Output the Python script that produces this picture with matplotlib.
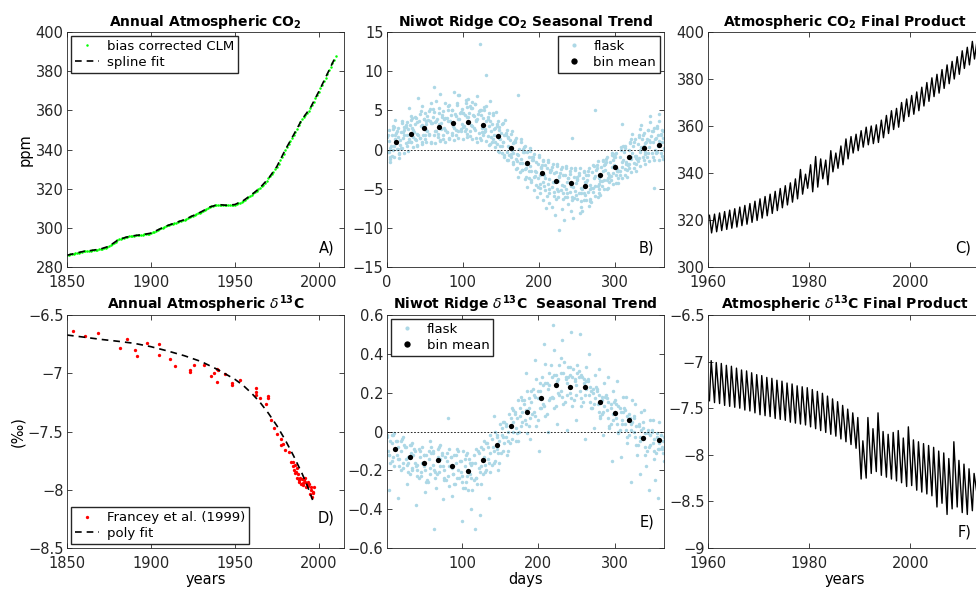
import numpy as np
import matplotlib.pyplot as plt
from matplotlib.ticker import FuncFormatter

plt.rcParams['font.family'] = ['DejaVu Sans']
plt.rcParams['mathtext.fontset'] = 'dejavusans'

# ---------------- data ----------------
# A) annual CO2 (bias corrected CLM), one value per year 1850-2010
clm_years = np.arange(1850, 2011)
clm_ppm = [
    286.0, 286.2, 286.4, 286.6, 286.8, 287.0, 287.2, 287.4, 287.6, 287.8,
    288.0, 288.1, 288.2, 288.3, 288.4, 288.5, 288.6, 288.7, 288.8, 289.0,
    289.2, 289.4, 289.6, 289.9, 290.2, 290.6, 291.1, 291.7, 292.4, 293.0,
    293.6, 294.1, 294.5, 294.8, 295.0, 295.2, 295.4, 295.6, 295.8, 295.9,
    296.0, 296.1, 296.2, 296.3, 296.4, 296.5, 296.6, 296.7, 296.9, 297.1,
    297.3, 297.7, 298.1, 298.5, 298.9, 299.3, 299.7, 300.0, 300.4, 300.8,
    301.2, 301.5, 301.8, 302.1, 302.4, 302.7, 303.0, 303.3, 303.6, 303.9,
    304.2, 304.6, 305.0, 305.4, 305.8, 306.2, 306.6, 307.0, 307.4, 307.8,
    308.2, 308.7, 309.2, 309.7, 310.2, 310.6, 311.0, 311.3, 311.6, 311.8,
    311.9, 311.9, 311.8, 311.7, 311.6, 311.5, 311.5, 311.5, 311.6, 311.7,
    311.9, 312.2, 312.5, 312.9, 313.4, 313.9, 314.4, 315.0, 315.6, 316.2,
    316.9, 317.6, 318.3, 319.0, 319.7, 320.5, 321.3, 322.1, 323.0, 324.0,
    325.2, 326.3, 327.4, 328.6, 329.9, 331.3, 332.8, 334.4, 336.1, 337.9,
    339.8, 341.5, 343.0, 344.5, 346.0, 347.5, 349.1, 350.7, 352.3, 353.9,
    355.4, 356.7, 357.7, 358.6, 359.8, 361.3, 362.9, 364.5, 366.2, 367.9,
    369.6, 371.3, 373.1, 374.9, 376.7, 378.5, 380.4, 382.2, 384.0, 385.8,
    387.5]
spline_years = np.arange(1850, 2011, 5)
spline_ppm = [286.0, 287.0, 288.0, 288.5, 289.2, 290.6, 293.6, 295.2, 296.0, 296.5,
              297.3, 299.3, 301.2, 302.7, 304.2, 306.2, 308.2, 310.6, 311.9, 311.5,
              311.9, 313.9, 316.9, 320.5, 325.2, 331.3, 339.8, 347.5, 355.4, 361.3,
              369.6, 378.5, 387.5]

# B) Niwot Ridge CO2 flask anomalies, sampled passes through the year (6-day steps)
co2_pass_start = [1, 2, 3, 4, 5, 3.5, 0.5, 1.5, 2.2, 3.8, 4.6]
co2_flask = [
    [1.9, -0.8, 2.4, 0.2, 3.1, 1.0, 4.2, 1.5, 3.9, 2.0, 5.2, 1.6, 4.4, 2.2, 5.0, 1.9, 4.8, 2.4, 5.6, 2.7,
     4.9, 1.8, 4.1, 0.9, 3.2, -0.4, 2.1, -1.0, 1.2, -2.9, 0.3, -3.6, -0.9, -4.8, -1.5, -5.9, -2.2, -6.3, -2.5, -6.0,
     -2.8, -6.2, -3.0, -6.5, -2.7, -5.4, -2.0, -4.6, -1.2, -3.9, -0.6, -3.3, 0.2, -2.4, 1.0, -1.5, 1.8, -0.9, 2.3, -0.5,
     2.0],
    [-0.3, 2.6, 0.1, 3.4, 0.5, 3.8, 1.2, 4.5, 1.4, 4.9, 8.0, 4.6, 1.3, 5.1, 1.8, 6.0, 2.6, 6.3, 1.7, 5.8,
     1.5, 5.0, 0.6, 4.4, -0.2, 3.3, -1.3, 2.0, -2.5, 0.9, -3.8, -0.2, -5.2, -1.0, -6.4, -1.6, -7.3, -1.9, -7.6, -2.1,
     -7.9, -2.4, -8.1, -2.9, -7.2, -2.0, -6.1, -1.5, -5.0, -0.7, -4.3, -0.1, -3.2, 0.8, -2.3, 1.6, -1.4, 2.5, -1.0, 3.0,
     -0.8],
    [1.1, 0.4, 1.6, 2.2, 1.9, 2.7, 2.0, 3.0, 2.5, 3.6, 2.4, 3.3, 2.8, 3.7, 3.0, 3.9, 3.3, 4.1, 3.1, 3.8,
     13.5, 2.6, 3.0, 1.9, 1.5, 0.9, 0.5, -0.1, -0.6, -1.2, -1.8, -2.1, -2.7, -3.2, -3.3, -3.8, -4.2, -4.0, -4.5, -4.1,
     -4.7, -4.3, -4.9, -4.2, -4.5, -3.6, -3.7, -2.8, -3.0, -2.2, -2.5, -1.6, -1.6, -0.9, -0.8, 0.0, 0.4, 0.3, 0.9, 0.5,
     1.0],
    [-1.6, 1.9, -0.5, 2.9, 0.9, 1.6, 3.5, 1.0, 3.2, 0.8, 3.7, 1.2, 4.0, 1.5, 7.4, 2.3, 4.6, 2.0, 5.3, 0.9,
     4.4, 9.5, 3.6, 1.0, 2.5, -0.9, 1.5, -1.9, 7.0, -2.6, -0.3, -4.1, -1.6, -5.6, -2.0, -6.8, -3.0, -10.3, -3.3, -7.0,
     1.5, -3.5, -7.4, -3.3, -6.6, 5.0, -5.0, -2.0, -4.2, -1.4, -3.6, 3.3, -2.6, 1.4, -1.8, 2.6, -0.6, 3.5, -4.9, 4.5,
     1.5],
    [0.5, 3.8, 1.2, 2.5, 5.3, 2.2, 6.6, 1.9, 4.3, 3.4, 6.2, 2.6, 5.9, 3.6, 4.5, 7.0, 3.0, 6.5, 4.4, 6.8,
     2.2, 5.5, 1.6, 4.8, 0.4, 3.8, -0.7, 0.9, -3.5, 0.1, -4.8, -1.0, -6.0, -2.2, -7.5, -2.6, -8.4, -3.4, -9.0, -3.6,
     -8.8, -3.8, -7.8, -3.9, -6.7, -2.6, -5.8, -1.8, -3.5, -0.9, -2.8, 0.4, -2.0, 2.0, -1.2, 3.1, 0.9, 4.3, 1.3, 3.6,
     0.0],
    [-0.9, 2.9, -1.1, 1.5, 2.6, 4.0, 0.6, 5.6, 3.7, 6.0, 3.5, 7.1, 3.9, 5.7, 3.2, 6.9, 4.6, 5.4, 6.1, 3.6,
     5.0, 2.3, 6.2, 2.6, 2.9, 1.0, 1.6, -0.4, -1.5, -1.7, -2.3, -2.8, -3.4, -4.4, -4.6, -5.0, -5.4, -5.3, -5.6, -5.5,
     -6.0, -5.8, -5.6, -5.8, -5.1, -4.7, -4.4, -3.9, -3.7, -3.0, -2.7, -2.2, -1.9, -1.2, -0.8, -0.3, 0.8, 1.2, 2.7, 1.9,
     2.4],
    [1.6, 1.8, 2.1, 2.2, 2.9, 3.1, 3.3, 3.7, 3.9, 3.8, 4.1, 3.9, 4.2, 4.0, 4.4, 4.3, 4.6, 4.4, 4.7, 4.3,
     4.5, 4.0, 3.9, 3.2, 3.0, 2.1, 1.9, 1.2, 0.9, 0.1, -0.3, -0.9, -1.3, -1.8, -2.0, -2.3, -2.6, -2.9, -3.0, -3.2,
     -3.1, -3.5, -3.3, -3.6, -3.2, -2.9, -2.3, -2.2, -1.6, -1.6, -1.0, -0.9, -0.3, 0.0, 0.5, 0.7, 1.3, 1.3, 1.7, 1.5,
     1.8],
    [-0.3, 0.0, 0.1, 0.2, 0.8, 0.9, 1.4, 1.5, 1.8, 1.9, 1.8, 2.0, 1.9, 2.2, 2.1, 2.5, 2.3, 2.6, 2.4, 2.5,
     2.1, 2.2, 1.7, 1.4, 0.7, 0.5, -0.3, -0.6, -1.2, -1.7, -2.5, -2.8, -3.5, -3.7, -4.2, -4.4, -4.8, -5.0, -5.2, -5.1,
     -5.4, -5.3, -5.6, -5.5, -5.4, -4.9, -4.6, -4.0, -3.9, -3.4, -3.3, -2.7, -2.5, -1.9, -1.7, -1.1, -0.9, -0.5, -0.5, -0.3,
     -0.4],
    [2.5, 3.0, 2.8, 3.6, 3.5, 4.3, 4.0, 4.9, 4.6, 5.2, 4.8, 5.3, 4.9, 5.5, 5.0, 5.7, 5.2, 5.9, 5.3, 5.8,
     5.1, 5.4, 4.6, 4.6, 3.7, 3.4, 2.5, 2.4, 1.5, 1.3, 0.5, 0.2, -0.6, -0.7, -1.3, -1.3, -1.9, -2.1, -2.2, -2.4,
     -2.3, -2.6, -2.4, -2.8, -2.3, -2.1, -1.5, -1.3, -0.9, -0.5, -0.4, 0.3, 0.5, 1.0, 1.4, 1.9, 2.1, 2.5, 2.4, 2.8,
     2.5],
    [-1.2, -1.0, -0.6, -0.4, -0.2, 0.3, 0.5, 0.7, 0.9, 1.0, 0.8, 1.1, 1.0, 1.3, 1.2, 1.5, 1.3, 1.6, 1.4, 1.5,
     1.2, 1.1, 0.7, 0.3, -0.3, -0.7, -1.3, -1.6, -2.3, -2.6, -3.5, -3.9, -4.5, -4.9, -5.2, -5.6, -5.9, -6.1, -6.3, -6.1,
     -6.4, -6.3, -6.6, -6.5, -6.3, -5.9, -5.6, -5.0, -4.9, -4.4, -4.3, -3.6, -3.5, -2.9, -2.7, -2.1, -1.8, -1.5, -1.4, -1.3,
     -1.2],
    [0.2, 1.4, 0.6, 1.9, 1.3, 2.5, 1.8, 3.1, 2.3, 3.4, 2.4, 3.4, 2.5, 3.7, 2.8, 3.9, 2.9, 4.1, 3.0, 3.9,
     2.8, 3.6, 2.3, 2.8, 1.3, 1.8, 0.3, 0.8, -0.7, -0.3, -1.9, -1.4, -2.9, -2.3, -3.6, -2.9, -4.2, -3.5, -4.6, -3.7,
     -4.8, -3.9, -5.0, -4.1, -4.9, -3.4, -4.0, -2.6, -3.3, -2.0, -2.7, -1.3, -1.9, -0.5, -1.1, 0.3, -0.3, 0.9, 0.0, 1.1,
     0.2],
]
bin_day = [12, 31, 49, 68, 87, 107, 127, 146, 164, 185, 204, 223, 242, 261, 281, 300, 319, 338, 358]
co2_bin_mean = [0.96, 2.03, 2.76, 2.89, 3.32, 3.53, 3.10, 1.69, 0.15, -1.73, -3.02, -4.0, -4.30, -4.60,
                -3.27, -2.25, -0.96, 0.24, 0.62]

# C) Atmospheric CO2 final product: yearly seasonal maximum / minimum, 1960-2013
prod_years = np.arange(1960, 2014)
co2_peak = [322.0, 322.5, 323.0, 323.6, 324.2, 324.8, 325.5, 326.2, 327.0, 328.0,
            329.0, 330.0, 331.0, 332.2, 333.4, 334.6, 335.8, 337.5, 341.5, 339.5,
            343.5, 347.0, 346.0, 345.5, 349.5, 348.5, 351.5, 354.5, 355.5, 356.5,
            358.0, 359.5, 360.0, 360.5, 362.5, 364.5, 366.5, 367.5, 370.0, 371.5,
            373.0, 374.5, 376.5, 378.5, 380.5, 382.0, 384.0, 386.0, 387.5, 389.5,
            392.0, 393.5, 396.0, 397.5]
co2_trough = [314.5, 315.0, 315.5, 316.0, 316.5, 317.0, 317.6, 318.2, 319.0, 319.8,
              320.8, 321.8, 322.8, 324.0, 325.2, 326.4, 327.6, 329.0, 331.0, 333.5,
              332.0, 334.0, 337.5, 335.0, 340.5, 342.0, 343.5, 346.0, 348.5, 349.5,
              351.0, 352.0, 352.5, 353.0, 355.0, 356.8, 358.5, 359.5, 362.0, 364.0,
              365.0, 366.5, 368.5, 370.5, 372.5, 374.0, 376.0, 378.0, 380.0, 382.0,
              384.5, 386.0, 388.5, 391.0]

# D) Francey et al. (1999) d13C and polynomial fit
francey_year = [1853.8, 1860.8, 1868.7, 1881.7, 1885.7, 1890.6, 1891.6, 1897.6, 1904.6, 1905.0,
                1911.6, 1914.6, 1923.5, 1923.5, 1925.9, 1931.9, 1935.5, 1937.5, 1939.1, 1939.1,
                1940.1, 1944.0, 1948.0, 1948.0, 1953.0, 1962.4, 1962.4, 1962.4, 1964.9, 1968.3,
                1970.0, 1970.0, 1971.3, 1973.3, 1975.3, 1977.3, 1977.3, 1978.9, 1979.9, 1982.3,
                1983.3, 1984.9, 1985.3, 1986.3, 1987.3, 1987.7, 1988.3, 1990.3, 1991.3, 1992.3,
                1993.3, 1994.3, 1995.2, 1996.3, 1996.9, 1984.5, 1985.8, 1986.0, 1987.0, 1988.0,
                1988.8, 1989.4, 1989.8, 1990.8, 1991.8, 1992.0, 1992.8, 1993.8, 1994.8, 1995.6,
                1996.0, 1996.6]
francey_d13c = [-6.637, -6.68, -6.652, -6.78, -6.709, -6.80, -6.852, -6.738, -6.749, -6.843,
                -6.88, -6.938, -6.972, -6.986, -6.929, -6.929, -7.023, -6.995, -7.072, -6.966,
                -6.974, -7.01, -7.086, -7.10, -7.06, -7.124, -7.157, -7.186, -7.215, -7.264,
                -7.195, -7.21, -7.40, -7.473, -7.52, -7.567, -7.616, -7.607, -7.659, -7.673,
                -7.765, -7.765, -7.83, -7.845, -7.816, -7.865, -7.931, -7.94, -7.917, -7.974,
                -7.931, -7.951, -8.002, -8.025, -7.974, -7.80, -7.79, -7.86, -7.90, -7.92,
                -7.90, -7.95, -7.91, -7.96, -7.93, -7.90, -7.95, -7.97, -8.04, -7.98,
                -8.06, -8.02]
poly_year = [1850, 1860, 1870, 1880, 1890, 1900, 1910, 1920, 1930, 1940, 1950, 1955, 1960,
             1965, 1970, 1975, 1980, 1985, 1990, 1993, 1996.3]
poly_d13c = [-6.672, -6.690, -6.709, -6.725, -6.743, -6.772, -6.809, -6.85, -6.90, -6.97, -7.052,
             -7.105, -7.172, -7.25, -7.344, -7.45, -7.573, -7.71, -7.86, -7.96, -8.088]

# E) Niwot Ridge d13C flask anomalies, sampled passes (6-day steps)
d13c_pass_start = [1, 2, 3, 4, 5, 1.6, 3.4, 4.5]
d13c_flask = [
    [-0.02, -0.15, -0.05, -0.20, -0.08, -0.22, -0.09, -0.24, -0.12, -0.26, -0.10, -0.22, -0.11, -0.25, -0.13,
     -0.27, -0.15, -0.29, -0.14, -0.25, -0.10, -0.22, -0.06, -0.17, -0.02, -0.11, 0.04, -0.06, 0.10, 0.00,
     0.16, 0.03, 0.22, 0.06, 0.28, 0.09, 0.34, 0.13, 0.38, 0.15, 0.33, 0.16, 0.31, 0.15, 0.27,
     0.12, 0.22, 0.09, 0.19, 0.04, 0.16, 0.01, 0.12, -0.02, 0.08, -0.07, 0.05, -0.10, 0.01, -0.11, -0.02],
    [-0.10, -0.06, -0.12, -0.10, -0.14, -0.11, -0.16, -0.13, -0.18, -0.14, -0.17, -0.13, -0.18, -0.15, -0.19,
     -0.16, -0.21, -0.18, -0.22, -0.16, -0.19, -0.13, -0.14, -0.08, -0.09, -0.02, -0.03, 0.03, 0.02, 0.08,
     0.06, 0.12, 0.10, 0.17, 0.14, 0.22, 0.18, 0.26, 0.21, 0.27, 0.20, 0.26, 0.21, 0.25, 0.19,
     0.20, 0.14, 0.16, 0.11, 0.12, 0.07, 0.10, 0.04, 0.07, 0.00, 0.03, -0.04, -0.01, -0.06, -0.03, -0.08],
    [-0.30, -0.02, -0.34, -0.04, -0.27, -0.07, -0.38, -0.10, -0.31, -0.05, -0.50, -0.08, -0.35, 0.07, -0.33,
     -0.09, -0.46, -0.12, -0.40, -0.50, -0.43, -0.05, -0.34, 0.08, -0.20, 0.05, -0.12, 0.12, -0.05, 0.18,
     0.30, -0.04, 0.37, -0.10, 0.45, 0.00, 0.55, 0.04, 0.47, 0.01, 0.51, 0.06, 0.50, -0.04, 0.40,
     0.02, 0.32, -0.02, 0.28, -0.15, 0.26, -0.13, 0.18, -0.26, 0.14, -0.22, 0.11, -0.30, 0.06, -0.34, -0.09],
    [-0.12, -0.18, -0.08, -0.19, -0.13, -0.20, -0.17, -0.23, -0.12, -0.19, -0.21, -0.14, -0.24, -0.18, -0.22,
     -0.20, -0.26, -0.23, -0.17, -0.24, -0.18, -0.17, -0.11, -0.10, -0.05, -0.03, 0.00, 0.05, 0.07, 0.10,
     0.11, 0.15, 0.18, 0.21, 0.25, 0.24, 0.29, 0.27, 0.30, 0.25, 0.28, 0.24, 0.29, 0.22, 0.23,
     0.17, 0.19, 0.13, 0.15, 0.09, 0.13, 0.06, 0.08, 0.04, 0.03, -0.03, -0.01, -0.07, -0.04, -0.09, -0.05],
    [-0.05, -0.09, -0.14, -0.07, -0.16, -0.12, -0.20, -0.16, -0.25, -0.11, -0.29, -0.18, -0.13, -0.28, -0.12,
     -0.24, -0.10, -0.30, -0.16, -0.27, -0.08, -0.20, -0.02, -0.15, 0.04, -0.06, 0.09, 0.00, 0.16, 0.05,
     0.21, 0.09, 0.27, 0.12, 0.35, 0.17, 0.42, 0.19, 0.36, 0.28, 0.32, 0.30, 0.28, 0.26, 0.21,
     0.23, 0.08, 0.18, 0.02, 0.15, 0.00, 0.10, -0.06, 0.05, -0.12, 0.01, -0.18, -0.02, -0.25, -0.06, -0.03],
    [-0.03, -0.02, -0.05, -0.05, -0.08, -0.07, -0.10, -0.09, -0.12, -0.10, -0.11, -0.09, -0.12, -0.11, -0.13,
     -0.12, -0.15, -0.14, -0.16, -0.12, -0.11, -0.09, -0.08, -0.04, -0.03, 0.02, 0.03, 0.07, 0.09, 0.12,
     0.14, 0.17, 0.19, 0.21, 0.24, 0.25, 0.28, 0.29, 0.30, 0.28, 0.29, 0.27, 0.28, 0.27, 0.26,
     0.22, 0.21, 0.18, 0.17, 0.14, 0.14, 0.12, 0.11, 0.09, 0.07, 0.04, 0.02, 0.01, 0.00, -0.01, -0.02],
    [-0.12, -0.13, -0.14, -0.16, -0.17, -0.19, -0.18, -0.21, -0.20, -0.22, -0.20, -0.21, -0.20, -0.23, -0.22,
     -0.24, -0.23, -0.26, -0.24, -0.24, -0.21, -0.21, -0.16, -0.16, -0.11, -0.10, -0.05, -0.04, -0.01, 0.03,
     0.04, 0.07, 0.08, 0.12, 0.13, 0.16, 0.17, 0.20, 0.18, 0.19, 0.17, 0.19, 0.17, 0.19, 0.15,
     0.14, 0.10, 0.10, 0.07, 0.06, 0.04, 0.04, 0.01, 0.01, -0.03, -0.05, -0.08, -0.08, -0.10, -0.09, -0.11],
    [-0.16, -0.01, -0.18, -0.03, -0.21, -0.06, -0.23, -0.08, -0.26, -0.08, -0.24, -0.07, -0.25, -0.09, -0.27,
     -0.10, -0.29, -0.11, -0.30, -0.09, -0.27, -0.06, -0.21, 0.00, -0.16, 0.05, -0.10, 0.11, -0.05, 0.16,
     -0.01, 0.21, 0.03, 0.25, 0.08, 0.30, 0.12, 0.34, 0.14, 0.33, 0.13, 0.34, 0.13, 0.33, 0.12,
     0.29, 0.07, 0.25, 0.03, 0.21, -0.01, 0.18, -0.03, 0.16, -0.07, 0.10, -0.12, 0.06, -0.14, 0.05, -0.15],
]
d13c_bin_mean = [-0.091, -0.129, -0.163, -0.147, -0.177, -0.204, -0.149, -0.067, 0.026, 0.103,
                 0.173, 0.237, 0.230, 0.228, 0.154, 0.096, 0.057, -0.034, -0.046]

# F) Atmospheric d13C final product: yearly seasonal maximum / minimum, 1960-2013
d13c_peak = [-6.99, -7.01, -7.02, -7.04, -7.05, -7.07, -7.09, -7.10, -7.12, -7.14,
             -7.15, -7.17, -7.18, -7.20, -7.21, -7.23, -7.24, -7.26, -7.27, -7.28,
             -7.30, -7.32, -7.34, -7.37, -7.40, -7.43, -7.47, -7.51, -7.55, -7.60,
             -7.85, -7.60, -7.72, -7.55, -7.75, -7.78, -7.76, -7.74, -7.82, -7.70,
             -7.84, -7.86, -7.88, -7.90, -7.92, -7.96, -7.98, -8.04, -7.86, -8.06,
             -8.10, -8.15, -8.20, -8.28]
d13c_trough = [-7.42, -7.44, -7.45, -7.47, -7.48, -7.49, -7.50, -7.52, -7.53, -7.55,
               -7.57, -7.58, -7.59, -7.61, -7.62, -7.63, -7.65, -7.66, -7.67, -7.68,
               -7.70, -7.72, -7.74, -7.76, -7.78, -7.80, -7.83, -7.86, -7.89, -7.93,
               -8.26, -8.25, -8.20, -8.18, -8.22, -8.24, -8.26, -8.28, -8.30, -8.34,
               -8.33, -8.38, -8.40, -8.42, -8.44, -8.56, -8.52, -8.64, -8.58, -8.56,
               -8.62, -8.64, -8.60, -8.45]

# ---------------- figure ----------------
W, H = 976, 593
fig = plt.figure(figsize=(W / 100, H / 100), dpi=100)

def add_ax(left, top, width, height):
    return fig.add_axes([left / W, 1 - (top + height) / H, width / W, height / H])

def fmt(v, pos):
    v = round(v, 6)
    if v == 0:
        return '0'
    return ('%g' % v).replace('-', '\u2212')

def style(ax):
    for s in ax.spines.values():
        s.set_color('0.15')
        s.set_linewidth(0.6)
    ax.tick_params(direction='in', top=True, right=True, length=3.5, width=0.6,
                   color='0.15', labelsize=10.5, labelcolor='0.15', pad=2.5)
    ax.tick_params(axis='x', pad=5.5)
    ax.xaxis.set_major_formatter(FuncFormatter(fmt))
    ax.yaxis.set_major_formatter(FuncFormatter(fmt))

def panel_label(ax, txt, y):
    ax.text(0.965, y, txt, transform=ax.transAxes, ha='right', va='center', fontsize=10.5)

def title(ax, txt):
    ax.set_title(txt, fontsize=10, fontweight='bold', pad=4)

leg_kw = dict(fontsize=9.5, frameon=True, fancybox=False, edgecolor='0.15',
              framealpha=1, handlelength=1.8, borderpad=0.3, labelspacing=0.2,
              handletextpad=0.6, borderaxespad=0.3)

lblue = '#add8e6'

axA = add_ax(67, 32, 277, 235)
axB = add_ax(387, 32, 277, 235)
axC = add_ax(708, 32, 273, 235)
axD = add_ax(67, 315, 277, 233)
axE = add_ax(387, 315, 277, 233)
axF = add_ax(708, 315, 273, 233)

# A
axA.plot(clm_years, clm_ppm, 'o', ms=1.8, mew=0, color='#00ff00', label='bias corrected CLM')
axA.plot(spline_years, spline_ppm, '--', color='k', lw=1.2, dashes=(4, 3), label='spline fit')
axA.set_xlim(1850, 2015)
axA.set_ylim(280, 400)
axA.set_xticks([1850, 1900, 1950, 2000])
axA.set_yticks(np.arange(280, 401, 20))
axA.set_ylabel('ppm', fontsize=10.5, labelpad=2)
title(axA, 'Annual Atmospheric CO$_\\mathbf{2}$')
axA.legend(loc='upper left', **leg_kw)
panel_label(axA, 'A)', 0.08)

# B
for k, (start, vals) in enumerate(zip(co2_pass_start, co2_flask)):
    days = start + 6 * np.arange(len(vals))
    axB.plot(days, vals, 'o', ms=2.5, mew=0, color=lblue, label='flask' if k == 0 else None)
axB.plot(bin_day, co2_bin_mean, 'o', ms=3.8, mew=0, color='k', label='bin mean')
axB.axhline(0, color='k', lw=0.6, ls=(0, (2, 2)))
axB.set_xlim(0, 365)
axB.set_ylim(-15, 15)
axB.set_xticks([0, 100, 200, 300])
axB.set_yticks(np.arange(-15, 16, 5))
title(axB, 'Niwot Ridge CO$_\\mathbf{2}$ Seasonal Trend')
axB.legend(loc='upper right', markerscale=1.2, **leg_kw)
panel_label(axB, 'B)', 0.08)

# C
tC = np.ravel(np.column_stack([prod_years + 0.29, prod_years + 0.71]))
vC = np.ravel(np.column_stack([co2_peak, co2_trough]))
axC.plot(tC, vC, color='k', lw=1.0)
axC.set_xlim(1960, 2014)
axC.set_ylim(300, 400)
axC.set_xticks([1960, 1980, 2000])
axC.set_yticks(np.arange(300, 401, 20))
title(axC, 'Atmospheric CO$_\\mathbf{2}$ Final Product')
panel_label(axC, 'C)', 0.08)

# D
axD.plot(francey_year, francey_d13c, 'o', ms=2.4, mew=0, color='#ff0000', label='Francey et al. (1999)')
axD.plot(poly_year, poly_d13c, '--', color='k', lw=1.2, dashes=(4, 3), label='poly fit')
axD.set_xlim(1850, 2015)
axD.set_ylim(-8.5, -6.5)
axD.set_xticks([1850, 1900, 1950, 2000])
axD.set_yticks(np.arange(-8.5, -6.49, 0.5))
axD.set_ylabel('(\u2030)', fontsize=10.5, labelpad=2)
axD.set_xlabel('years', fontsize=10.5, labelpad=1)
title(axD, 'Annual Atmospheric $\\delta^{\\mathbf{13}}$C')
axD.legend(loc='lower left', **leg_kw)
panel_label(axD, 'D)', 0.13)

# E
for k, (start, vals) in enumerate(zip(d13c_pass_start, d13c_flask)):
    days = start + 6 * np.arange(len(vals))
    axE.plot(days, vals, 'o', ms=2.5, mew=0, color=lblue, label='flask' if k == 0 else None)
axE.plot(bin_day, d13c_bin_mean, 'o', ms=3.8, mew=0, color='k', label='bin mean')
axE.axhline(0, color='k', lw=0.6, ls=(0, (2, 2)))
axE.set_xlim(1, 365)
axE.set_ylim(-0.6, 0.6)
axE.set_xticks([100, 200, 300])
axE.set_yticks(np.arange(-0.6, 0.61, 0.2))
axE.set_xlabel('days', fontsize=10.5, labelpad=1)
title(axE, 'Niwot Ridge $\\delta^{\\mathbf{13}}$C  Seasonal Trend')
axE.legend(loc='upper left', markerscale=1.2, **leg_kw)
panel_label(axE, 'E)', 0.11)

# F
tF = np.ravel(np.column_stack([prod_years + 0.29, prod_years + 0.63]))
vF = np.ravel(np.column_stack([d13c_trough, d13c_peak]))
axF.plot(tF, vF, color='k', lw=1.0)
axF.set_xlim(1960, 2014)
axF.set_ylim(-9, -6.5)
axF.set_xticks([1960, 1980, 2000])
axF.set_yticks(np.arange(-9, -6.49, 0.5))
axF.set_xlabel('years', fontsize=10.5, labelpad=1)
title(axF, 'Atmospheric $\\delta^{\\mathbf{13}}$C Final Product')
panel_label(axF, 'F)', 0.07)

for ax in (axA, axB, axC, axD, axE, axF):
    style(ax)

fig.savefig('out.png', dpi=100)
